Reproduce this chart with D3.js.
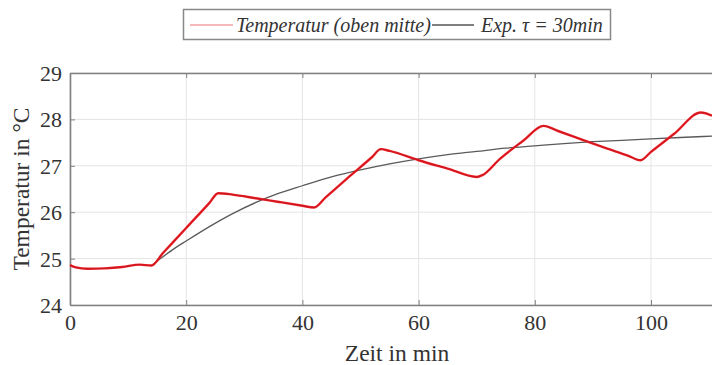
<!DOCTYPE html>
<html>
<head>
<meta charset="utf-8">
<script src="https://cdn.jsdelivr.net/npm/d3@7"></script>
<style>
  body { margin: 0; background: #fff; }
  svg { display: block; font-family: "Liberation Serif", "DejaVu Serif", serif; }
</style>
</head>
<body>
<svg id="chart" width="712" height="365"></svg>
<script>
// measured temperature (red)
var tempTime = [0, 1, 3, 6, 9, 12, 14, 16, 20, 24, 25.5, 28, 32, 36, 40, 42, 44, 48, 52, 53.5, 55, 60, 65, 70, 71, 74, 78, 81.5, 84, 88, 92, 96, 98.2, 100, 104, 108.6, 110.5];
var tempValue = [24.86, 24.81, 24.78, 24.79, 24.82, 24.87, 24.85, 25.12, 25.66, 26.2, 26.41, 26.38, 26.3, 26.22, 26.14, 26.1, 26.32, 26.76, 27.19, 27.36, 27.32, 27.12, 26.94, 26.76, 26.8, 27.15, 27.54, 27.86, 27.75, 27.57, 27.39, 27.22, 27.12, 27.3, 27.69, 28.15, 28.08];

// exponential fit, tau = 30 min (gray)
var expTime = [14, 16, 18, 20, 24, 28, 32, 36, 40, 45, 50, 55, 60, 65, 70, 75, 80, 85, 90, 95, 100, 105, 110.5];
var expValue = [24.85, 25.04, 25.22, 25.38, 25.69, 25.97, 26.21, 26.41, 26.57, 26.76, 26.91, 27.04, 27.15, 27.24, 27.31, 27.38, 27.43, 27.48, 27.52, 27.55, 27.58, 27.61, 27.64];

var xTicks = [0, 20, 40, 60, 80, 100];
var yTicks = [24, 25, 26, 27, 28, 29];

var svg = d3.select("#chart");
var plotLeft = 70, plotRight = 712, plotTop = 73, plotBottom = 305;

var x = d3.scaleLinear().domain([0, 110.5]).range([plotLeft, plotRight]);
var y = d3.scaleLinear().domain([24, 29]).range([plotBottom, plotTop]);

// grid
var grid = svg.append("g").attr("stroke", "#e4e4e4").attr("stroke-width", 1);
xTicks.forEach(function(t) {
    grid.append("line").attr("x1", x(t)).attr("x2", x(t)).attr("y1", plotTop).attr("y2", plotBottom);
});
yTicks.forEach(function(t) {
    grid.append("line").attr("x1", plotLeft).attr("x2", plotRight).attr("y1", y(t)).attr("y2", y(t));
});

// axes with inward ticks
var axisColor = "#808080";
var xAxis = svg.append("g")
    .attr("transform", "translate(0," + plotBottom + ")")
    .call(d3.axisBottom(x).tickValues(xTicks).tickFormat(d3.format("d")).tickSizeInner(-5).tickSizeOuter(0).tickPadding(12));
var xTop = svg.append("g")
    .attr("transform", "translate(0," + plotTop + ")")
    .call(d3.axisTop(x).tickValues(xTicks).tickSizeInner(-5).tickSizeOuter(0).tickFormat(""));
var yAxis = svg.append("g")
    .attr("transform", "translate(" + plotLeft + ",0)")
    .call(d3.axisLeft(y).tickValues(yTicks).tickFormat(d3.format("d")).tickSizeInner(-5).tickSizeOuter(0).tickPadding(8));

[xAxis, xTop, yAxis].forEach(function(a) {
    a.selectAll("path").attr("stroke", axisColor).attr("stroke-width", 1.6);
    a.selectAll("line").attr("stroke", axisColor).attr("stroke-width", 1);
    a.selectAll("text").attr("fill", "#333").style("font-size", "22px").style("font-family", "Liberation Serif, serif");
});
xAxis.selectAll("text").attr("dy", "0.6em");
yAxis.selectAll("text").attr("dy", "0.34em");

// lines
var lineTemp = d3.line().x(function(d, i) { return x(tempTime[i]); }).y(function(d) { return y(d); }).curve(d3.curveMonotoneX);
var lineExp = d3.line().x(function(d, i) { return x(expTime[i]); }).y(function(d) { return y(d); }).curve(d3.curveMonotoneX);

svg.append("path").datum(expValue).attr("d", lineExp)
    .attr("fill", "none").attr("stroke", "#5a5a5a").attr("stroke-width", 1.3);
svg.append("path").datum(tempValue).attr("d", lineTemp)
    .attr("fill", "none").attr("stroke", "#ee1c25").attr("stroke-width", 2.4);
svg.append("path").datum(tempValue).attr("d", lineTemp)
    .attr("fill", "none").attr("stroke", "#7a1010").attr("stroke-width", 0.6).attr("opacity", 0.6);

// axis labels
svg.append("text").attr("x", 397).attr("y", 361).attr("text-anchor", "middle")
    .attr("fill", "#333").style("font-size", "23.5px").text("Zeit in min");
svg.append("text").attr("transform", "translate(29,189) rotate(-90)").attr("text-anchor", "middle")
    .attr("fill", "#333").style("font-size", "23.5px").text("Temperatur in °C");

// legend
var legend = svg.append("g");
legend.append("rect").attr("x", 183.5).attr("y", 9.5).attr("width", 427).attr("height", 30)
    .attr("fill", "#fff").attr("stroke", "#888").attr("stroke-width", 1.5);
legend.append("line").attr("x1", 190).attr("x2", 233).attr("y1", 25).attr("y2", 25)
    .attr("stroke", "#f4a0a4").attr("stroke-width", 1.6);
legend.append("text").attr("x", 236).attr("y", 31.5).attr("fill", "#333")
    .style("font-size", "20px").style("font-style", "italic").text("Temperatur (oben mitte)");
legend.append("line").attr("x1", 432).attr("x2", 474).attr("y1", 25).attr("y2", 25)
    .attr("stroke", "#555").attr("stroke-width", 1.3);
legend.append("text").attr("x", 481).attr("y", 31.5).attr("fill", "#333")
    .style("font-size", "20px").style("font-style", "italic").text("Exp. τ = 30min");
</script>
</body>
</html>
